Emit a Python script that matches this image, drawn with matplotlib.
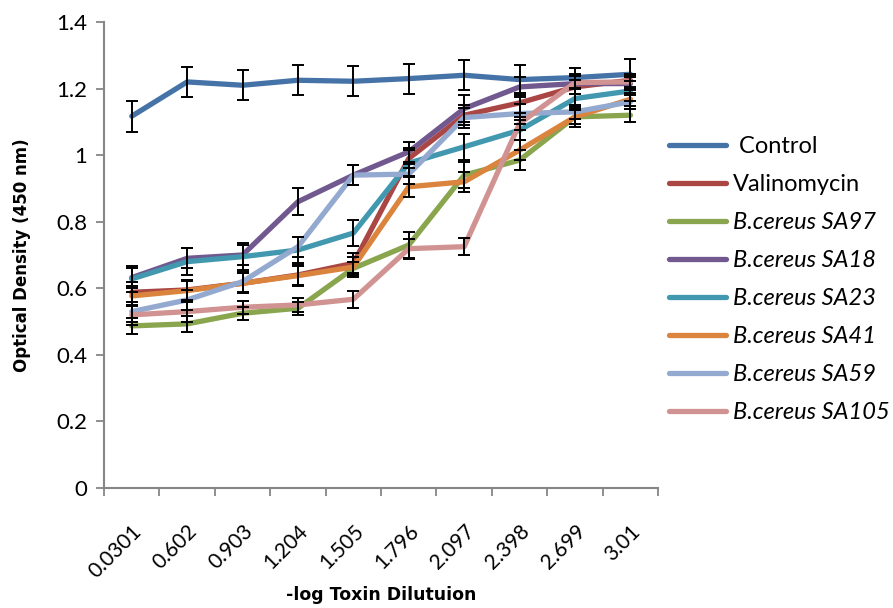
import numpy as np
import matplotlib.pyplot as plt

# x categories (-log dilution)
dilutions = ["0.0301", "0.602", "0.903", "1.204", "1.505", "1.796", "2.097", "2.398", "2.699", "3.01"]

names = ["Control", "Valinomycin", "B.cereus SA97", "B.cereus SA18", "B.cereus SA23",
         "B.cereus SA41", "B.cereus SA59", "B.cereus SA105"]

control = [1.117, 1.22, 1.21, 1.225, 1.222, 1.23, 1.24, 1.227, 1.233, 1.243]
valinomycin = [0.588, 0.595, 0.615, 0.64, 0.675, 0.99, 1.12, 1.157, 1.205, 1.225]
sa97 = [0.487, 0.493, 0.525, 0.54, 0.66, 0.73, 0.94, 0.985, 1.115, 1.12]
sa18 = [0.632, 0.69, 0.70, 0.86, 0.94, 1.01, 1.14, 1.205, 1.215, 1.215]
sa23 = [0.628, 0.68, 0.695, 0.715, 0.766, 0.976, 1.025, 1.075, 1.17, 1.193]
sa41 = [0.577, 0.593, 0.615, 0.638, 0.664, 0.905, 0.92, 1.015, 1.115, 1.168]
sa59 = [0.53, 0.565, 0.62, 0.725, 0.94, 0.943, 1.113, 1.125, 1.13, 1.16]
sa105 = [0.52, 0.53, 0.543, 0.55, 0.567, 0.719, 0.725, 1.095, 1.218, 1.22]

err_control = [0.047, 0.046, 0.045, 0.045, 0.045, 0.045, 0.045, 0.045, 0.03, 0.045]
err_valino = [0.03, 0.03, 0.03, 0.03, 0.03, 0.03, 0.03, 0.03, 0.02, 0.02]
err_sa97 = [0.025, 0.025, 0.02, 0.02, 0.02, 0.04, 0.04, 0.03, 0.02, 0.02]
err_sa18 = [0.03, 0.03, 0.03, 0.04, 0.03, 0.03, 0.04, 0.03, 0.03, 0.02]
err_sa23 = [0.04, 0.04, 0.04, 0.04, 0.04, 0.04, 0.04, 0.03, 0.03, 0.03]
err_sa41 = [0.03, 0.03, 0.03, 0.03, 0.03, 0.03, 0.03, 0.03, 0.03, 0.02]
err_sa59 = [0.03, 0.03, 0.03, 0.03, 0.03, 0.03, 0.03, 0.03, 0.02, 0.02]
err_sa105 = [0.03, 0.03, 0.02, 0.02, 0.025, 0.03, 0.025, 0.02, 0.02, 0.02]

series = [control, valinomycin, sa97, sa18, sa23, sa41, sa59, sa105]
errors = [err_control, err_valino, err_sa97, err_sa18, err_sa23, err_sa41, err_sa59, err_sa105]
colors = ["#4572A7", "#AA4643", "#89A54E", "#71588F", "#4198AF", "#DB843D", "#93A9CF", "#D19392"]

plt.rcParams["font.family"] = ["Lato", "DejaVu Sans"]

fig = plt.figure(figsize=(8.93, 6.08), dpi=100)
ax = fig.add_axes([0.1165, 0.1974, 0.6205, 0.7664])

x = np.arange(len(dilutions))
for vals, errs, c, name in zip(series, errors, colors, names):
    label = " " + name if name == "Control" else name
    ax.plot(x, vals, color=c, lw=3.8, label=label, solid_capstyle="round", zorder=2)
    ax.errorbar(x, vals, yerr=errs, fmt="none", ecolor="black", elinewidth=1.4,
                capsize=4.5, capthick=1.4, zorder=3)

ax.set_xlim(-0.5, len(dilutions) - 0.5)
ax.set_ylim(0, 1.4)
ax.set_yticks(np.arange(0, 1.41, 0.2))
ax.set_yticklabels(["0", "0.2", "0.4", "0.6", "0.8", "1", "1.2", "1.4"], fontsize=16)
ax.set_xticks(x)
ax.set_xticklabels(dilutions, rotation=45, ha="right", rotation_mode="anchor", fontsize=15)
ax.set_xticks(np.arange(-0.5, len(dilutions)), minor=True)
ax.tick_params(axis="x", which="major", length=0, pad=24)
ax.tick_params(axis="x", which="minor", length=6, color="#868686", width=1.3)
ax.tick_params(axis="y", length=6, color="#868686", width=1.3, pad=6)

for s in ["top", "right"]:
    ax.spines[s].set_visible(False)
for s in ["left", "bottom"]:
    ax.spines[s].set_color("#868686")
    ax.spines[s].set_linewidth(1.5)

ax.set_ylabel("Optical Density (450 nm)", fontsize=12, fontweight="bold",
              family="DejaVu Sans", labelpad=18)
# x label sits close to the bottom edge, as in the original
fig.text(0.1165 + 0.6205 / 2, 0.022, "-log Toxin Dilutuion", fontsize=12.5,
         fontweight="bold", family="DejaVu Sans", ha="center", va="center")

leg = ax.legend(loc="upper left", bbox_to_anchor=(0.99, 0.79), frameon=False,
                fontsize=17, handlelength=2.4, labelspacing=0.72, handletextpad=0.3,
                borderaxespad=0.3)
for t in leg.get_texts():
    if t.get_text().startswith("B."):
        t.set_style("italic")

fig.savefig("out.png", dpi=100)
